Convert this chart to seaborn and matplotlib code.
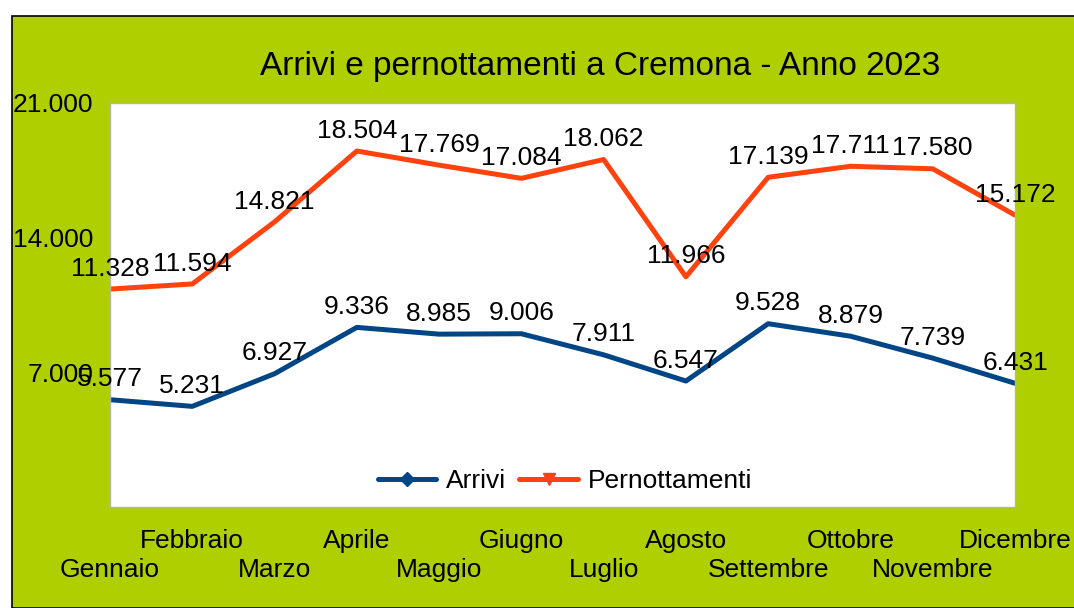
import matplotlib
matplotlib.use("Agg")
import matplotlib.pyplot as plt
from matplotlib.lines import Line2D
from matplotlib.patches import Rectangle
import seaborn as sns
import pandas as pd

# Data
mesi = ["Gennaio", "Febbraio", "Marzo", "Aprile", "Maggio", "Giugno",
        "Luglio", "Agosto", "Settembre", "Ottobre", "Novembre", "Dicembre"]
arrivi = [5577, 5231, 6927, 9336, 8985, 9006, 7911, 6547, 9528, 8879, 7739, 6431]
pernottamenti = [11328, 11594, 14821, 18504, 17769, 17084, 18062, 11966,
                 17139, 17711, 17580, 15172]
y_ticks = [0, 7000, 14000, 21000]
y_tick_labels = ["", "7.000", "14.000", "21.000"]

colori = {"Arrivi": "#004586", "Pernottamenti": "#ff420e"}
verde = "#b0cf00"

df = pd.concat([
    pd.DataFrame({"idx": range(len(mesi)), "valore": arrivi, "serie": "Arrivi"}),
    pd.DataFrame({"idx": range(len(mesi)), "valore": pernottamenti, "serie": "Pernottamenti"}),
])

sns.set_style("white")
plt.rcParams["font.family"] = ["Liberation Sans", "DejaVu Sans"]
plt.rcParams["text.color"] = "black"

fs = 19

fig = plt.figure(figsize=(10.74, 6.08), dpi=100)
fig.patch.set_facecolor("white")
# green chart background with black border (top/left visible)
fig.patches.append(Rectangle((11.5 / 1074, 0), 1.1, (608 - 15.5) / 608,
                             transform=fig.transFigure, facecolor=verde,
                             edgecolor="black", linewidth=1.2, zorder=-10))

ax = fig.add_axes([110 / 1074, 1 - 507 / 608, 905 / 1074, 404 / 608])
ax.set_facecolor("white")

sns.lineplot(data=df, x="idx", y="valore", hue="serie", palette=colori,
             linewidth=3.6, ax=ax, legend=False)

# value labels
for nome, valori in [("Arrivi", arrivi), ("Pernottamenti", pernottamenti)]:
    for i, v in enumerate(valori):
        ax.annotate(f"{v:,}".replace(",", "."), (i, v), xytext=(0, 6),
                    textcoords="offset points", ha="center", va="bottom",
                    fontsize=fs, color="black", zorder=5, annotation_clip=False)

ax.set_xlim(0, len(mesi) - 1)
ax.set_ylim(0, 21000)
ax.set_yticks(y_ticks)
ax.set_yticklabels(y_tick_labels, fontsize=fs)
ax.set_xticks(range(len(mesi)))
# alternate months on two rows, as in the original
ax.set_xticklabels([("\n" + m) if i % 2 == 0 else m for i, m in enumerate(mesi)],
                   fontsize=fs, linespacing=1.25)
ax.tick_params(axis="both", length=7, width=1, color="#b3b3b3", labelcolor="black",
               pad=9, direction="out")
ax.tick_params(axis="y", pad=5)
ax.set_xlabel("")
ax.set_ylabel("")
for s in ax.spines.values():
    s.set_color("#b3b3b3")
    s.set_linewidth(1)

fig.text(600 / 1074, 1 - 66 / 608, "Arrivi e pernottamenti a Cremona - Anno 2023",
         ha="center", va="center", fontsize=24, color="black")

handles = [
    Line2D([], [], color=colori["Arrivi"], linewidth=3.6, marker="D", markersize=7),
    Line2D([], [], color=colori["Pernottamenti"], linewidth=3.6, marker="v", markersize=9),
]
ax.legend(handles, ["Arrivi", "Pernottamenti"], loc="center",
          bbox_to_anchor=(565 / 1074, 1 - 481 / 608), bbox_transform=fig.transFigure,
          ncol=2, frameon=False, fontsize=fs, handlelength=2.2,
          handletextpad=0.4, columnspacing=0.5)

fig.savefig("out.png", dpi=100, facecolor=fig.get_facecolor())
